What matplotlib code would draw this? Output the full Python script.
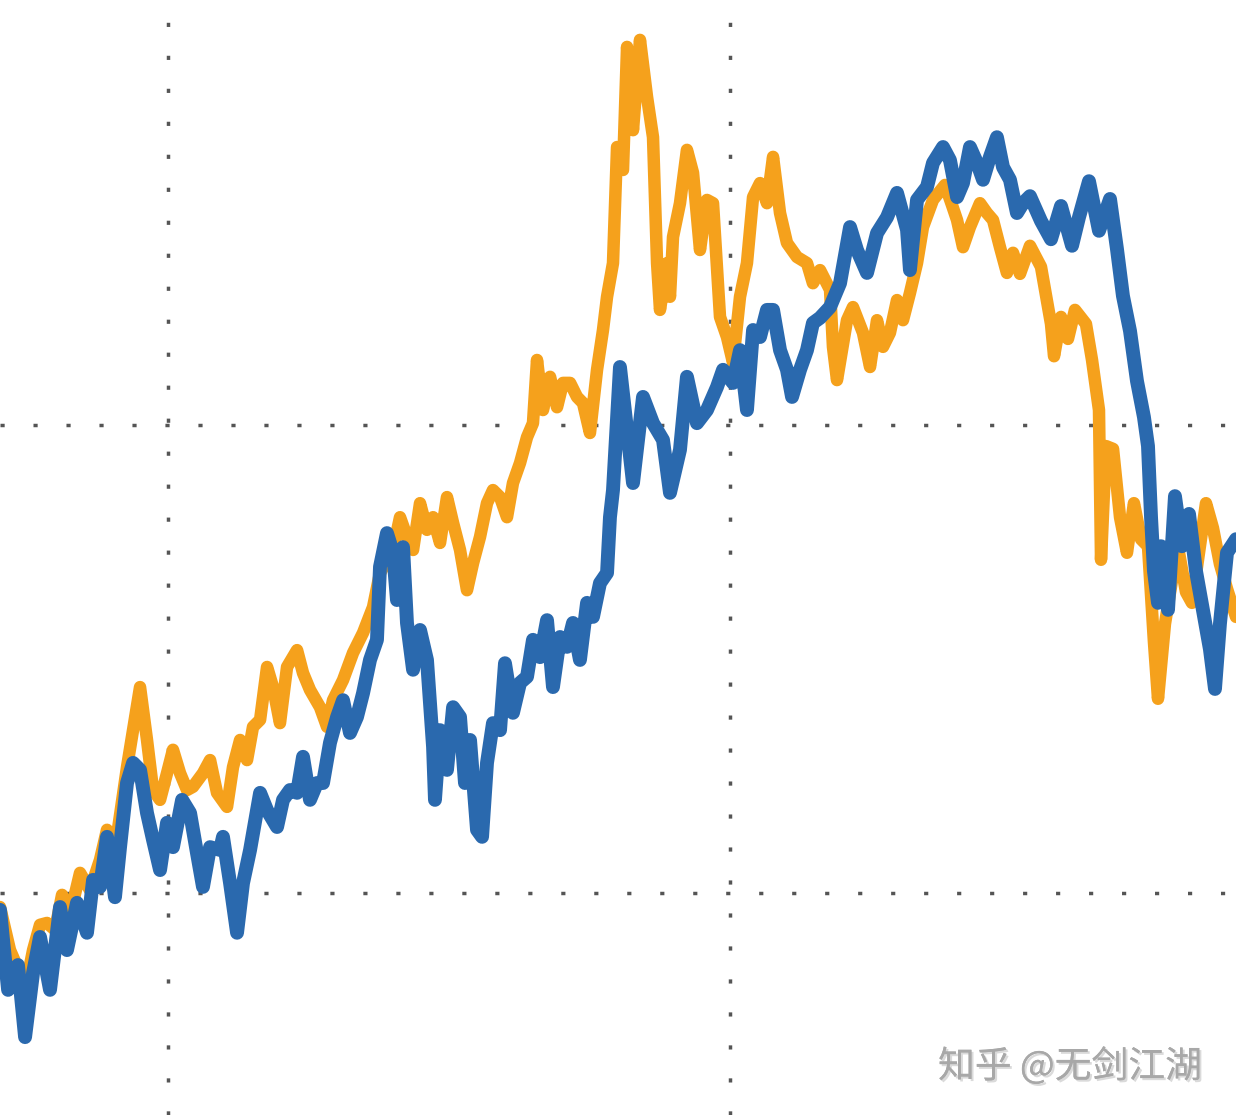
import matplotlib
matplotlib.use("Agg")
import matplotlib.pyplot as plt
import matplotlib.patheffects as pe

plt.rcParams['font.family'] = ['Noto Sans CJK SC', 'DejaVu Sans']

# ---- data (time in years, values as index levels) ----
blue_x = [
    2008.505, 2008.577, 2008.665, 2008.728, 2008.799, 2008.861, 2008.950, 2009.039, 2009.101, 2009.190,
    2009.279, 2009.333, 2009.395, 2009.457, 2009.528, 2009.573, 2009.635, 2009.689, 2009.751, 2009.813,
    2009.867, 2009.929, 2009.991, 2010.044, 2010.125, 2010.196, 2010.258, 2010.311, 2010.374, 2010.463,
    2010.489, 2010.552, 2010.614, 2010.667, 2010.730, 2010.819, 2010.881, 2010.970, 2011.023, 2011.085,
    2011.148, 2011.201, 2011.263, 2011.326, 2011.379, 2011.441, 2011.504, 2011.557, 2011.619, 2011.681,
    2011.735, 2011.797, 2011.859, 2011.886, 2011.948, 2012.002, 2012.037, 2012.091, 2012.126, 2012.180,
    2012.242, 2012.304, 2012.358, 2012.375, 2012.420, 2012.482, 2012.536, 2012.598, 2012.642, 2012.687,
    2012.749, 2012.794, 2012.838, 2012.891, 2012.954, 2012.998, 2013.069, 2013.132, 2013.194, 2013.247,
    2013.310, 2013.372, 2013.425, 2013.488, 2013.550, 2013.603, 2013.665, 2013.728, 2013.781, 2013.843,
    2013.906, 2013.932, 2013.959, 2014.021, 2014.084, 2014.137, 2014.226, 2014.315, 2014.404, 2014.466,
    2014.555, 2014.617, 2014.706, 2014.795, 2014.884, 2014.938, 2015.027, 2015.089, 2015.151, 2015.205,
    2015.267, 2015.329, 2015.383, 2015.445, 2015.507, 2015.552, 2015.623, 2015.685, 2015.738, 2015.801,
    2015.890, 2015.979, 2016.068, 2016.130, 2016.219, 2016.308, 2016.397, 2016.486, 2016.575, 2016.601,
    2016.664, 2016.753, 2016.806, 2016.895, 2016.957, 2017.020, 2017.073, 2017.135, 2017.198, 2017.251,
    2017.313, 2017.375, 2017.429, 2017.491, 2017.553, 2017.607, 2017.669, 2017.767, 2017.856, 2017.945,
    2018.043, 2018.105, 2018.194, 2018.283, 2018.381, 2018.443, 2018.496, 2018.559, 2018.621, 2018.683,
    2018.719, 2018.746, 2018.772, 2018.808, 2018.835, 2018.897, 2018.959, 2019.021, 2019.084, 2019.146,
    2019.208, 2019.270, 2019.315, 2019.359, 2019.422, 2019.502,
]
blue_y = [
    96.4, 79.3, 84.6, 69.2, 82.9, 90.6, 79.3, 97.0, 87.8, 97.9,
    91.5, 102.8, 101.3, 112.0, 99.1, 109.8, 123.5, 127.8, 126.3, 117.1,
    111.3, 104.9, 115.0, 109.8, 119.9, 117.1, 108.5, 101.3, 109.8, 109.2,
    112.0, 102.1, 91.5, 102.1, 109.2, 121.4, 117.7, 114.1, 119.9, 122.0,
    121.4, 129.1, 119.9, 123.5, 123.5, 132.1, 137.6, 141.2, 134.2, 137.6,
    142.7, 149.8, 154.1, 169.7, 176.9, 172.7, 162.6, 173.9, 157.7, 147.7,
    156.2, 149.8, 131.2, 119.9, 134.8, 126.3, 139.7, 137.6, 123.5, 132.7,
    113.5, 112.0, 127.8, 136.3, 134.8, 149.1, 138.5, 144.9, 146.2, 154.1,
    150.4, 158.3, 144.0, 154.7, 152.6, 157.7, 149.8, 162.0, 159.0, 166.2,
    168.4, 180.3, 186.1, 212.4, 198.9, 187.6, 206.0, 200.4, 196.8, 185.5,
    194.7, 210.3, 200.4, 203.2, 208.1, 211.8, 209.0, 216.0, 203.2, 220.3,
    218.8, 224.6, 224.6, 216.0, 211.8, 206.0, 211.8, 216.0, 221.8, 222.9,
    225.2, 230.3, 242.3, 237.4, 232.5, 241.0, 244.4, 249.6, 241.7, 233.1,
    248.1, 250.9, 256.0, 259.4, 256.6, 248.7, 251.7, 259.4, 256.0, 252.4,
    257.3, 261.5, 255.1, 252.4, 245.3, 247.4, 248.9, 243.6, 239.7, 246.8,
    238.3, 244.4, 252.1, 241.5, 248.3, 237.6, 227.6, 220.1, 209.4, 201.7,
    195.5, 180.3, 168.8, 162.0, 174.1, 160.5, 184.8, 174.1, 181.0, 168.8,
    160.5, 152.1, 143.6, 157.5, 172.7, 175.6,
]

orange_x = [
    2008.505, 2008.594, 2008.639, 2008.728, 2008.799, 2008.861, 2008.923, 2008.995, 2009.057, 2009.128,
    2009.217, 2009.306, 2009.395, 2009.457, 2009.528, 2009.635, 2009.689, 2009.751, 2009.813, 2009.867,
    2009.929, 2009.991, 2010.044, 2010.107, 2010.169, 2010.222, 2010.311, 2010.374, 2010.436, 2010.525,
    2010.578, 2010.641, 2010.703, 2010.756, 2010.819, 2010.881, 2010.934, 2010.996, 2011.059, 2011.148,
    2011.201, 2011.263, 2011.352, 2011.415, 2011.468, 2011.557, 2011.646, 2011.735, 2011.824, 2011.886,
    2012.002, 2012.064, 2012.126, 2012.180, 2012.242, 2012.304, 2012.358, 2012.420, 2012.482, 2012.536,
    2012.598, 2012.660, 2012.714, 2012.776, 2012.838, 2012.891, 2012.954, 2013.016, 2013.069, 2013.132,
    2013.194, 2013.247, 2013.283, 2013.336, 2013.399, 2013.461, 2013.514, 2013.577, 2013.639, 2013.692,
    2013.754, 2013.817, 2013.870, 2013.906, 2013.959, 2013.995, 2014.048, 2014.084, 2014.137, 2014.199,
    2014.262, 2014.315, 2014.351, 2014.377, 2014.440, 2014.466, 2014.493, 2014.555, 2014.617, 2014.671,
    2014.733, 2014.795, 2014.849, 2014.911, 2014.973, 2015.027, 2015.089, 2015.151, 2015.205, 2015.267,
    2015.329, 2015.383, 2015.445, 2015.507, 2015.596, 2015.685, 2015.738, 2015.801, 2015.890, 2015.916,
    2015.952, 2016.041, 2016.094, 2016.183, 2016.246, 2016.308, 2016.361, 2016.423, 2016.486, 2016.539,
    2016.601, 2016.664, 2016.717, 2016.806, 2016.913, 2016.975, 2017.020, 2017.073, 2017.135, 2017.224,
    2017.286, 2017.340, 2017.402, 2017.464, 2017.518, 2017.580, 2017.669, 2017.767, 2017.856, 2017.883,
    2017.945, 2018.007, 2018.069, 2018.167, 2018.221, 2018.283, 2018.301, 2018.345, 2018.408, 2018.470,
    2018.532, 2018.594, 2018.657, 2018.719, 2018.772, 2018.808, 2018.870, 2018.932, 2018.995, 2019.057,
    2019.110, 2019.173, 2019.235, 2019.297, 2019.359, 2019.422, 2019.502,
]
orange_y = [
    97.0, 87.8, 85.3, 79.3, 87.8, 93.2, 93.6, 92.1, 99.6, 95.3,
    104.3, 100.6, 107.1, 113.5, 109.2, 126.9, 134.8, 144.0, 132.7, 122.0,
    119.9, 125.6, 130.6, 125.6, 122.0, 122.7, 125.6, 128.4, 121.4, 118.4,
    126.9, 132.7, 128.4, 135.5, 137.0, 148.3, 144.0, 136.3, 148.3, 151.9,
    147.0, 143.4, 139.7, 135.5, 141.2, 145.5, 151.3, 155.6, 161.1, 168.4,
    173.3, 180.3, 176.1, 173.3, 183.3, 177.6, 180.3, 174.8, 184.6, 179.1,
    173.3, 164.7, 170.5, 176.1, 183.3, 186.1, 184.6, 180.3, 187.6, 191.9,
    197.4, 200.4, 213.9, 203.2, 210.3, 203.8, 209.0, 209.0, 206.0, 204.7,
    198.3, 211.8, 220.3, 227.4, 234.6, 259.4, 254.5, 280.8, 263.0, 282.3,
    270.1, 261.5, 234.6, 224.6, 234.6, 227.4, 240.2, 247.4, 258.8, 253.9,
    237.4, 248.1, 247.4, 223.1, 218.8, 213.3, 227.4, 234.6, 248.7, 251.7,
    247.4, 257.3, 245.3, 238.9, 235.9, 234.6, 230.3, 233.1, 228.9, 216.7,
    209.6, 222.4, 225.2, 219.7, 212.4, 222.4, 216.7, 219.7, 226.7, 222.4,
    228.2, 234.6, 242.3, 248.1, 251.3, 247.0, 243.8, 238.0, 242.3, 247.4,
    245.3, 243.8, 238.0, 232.5, 236.8, 232.3, 238.3, 233.8, 221.6, 214.7,
    223.1, 218.4, 224.6, 221.6, 213.9, 203.2, 171.2, 195.5, 194.9, 180.3,
    172.7, 183.3, 175.6, 174.1, 153.6, 141.5, 157.5, 166.7, 172.7, 164.3,
    162.0, 172.7, 183.3, 178.0, 170.3, 165.0, 159.0,
]

grid_x = [2010, 2015]
grid_y = [100, 200]
watermark = "知乎 @无剑江湖"

assert len(blue_x) == len(blue_y)
assert len(orange_x) == len(orange_y)

# ---- figure ----
fig = plt.figure(figsize=(12.36, 11.15), dpi=100)
ax = fig.add_axes([0, 0, 1, 1])
ax.set_xlim(2008.505, 2019.502)
ax.set_ylim(52.56, 290.82)
for s in ax.spines.values():
    s.set_visible(False)
ax.set_xticks([])
ax.set_yticks([])

grid_style = dict(color="#555555", linewidth=2.5, linestyle=(0, (1.2, 8.3)), zorder=1)
for gx in grid_x:
    ax.axvline(gx, **grid_style)
for gy in grid_y:
    ax.axhline(gy, **grid_style)

ax.plot(orange_x, orange_y, color="#F5A11C", linewidth=9.0, zorder=2,
        solid_joinstyle="round", solid_capstyle="round")
ax.plot(blue_x, blue_y, color="#2A69AE", linewidth=10.0, zorder=3,
        solid_joinstyle="round", solid_capstyle="round")

fig.text(938 / 1236, 1 - 1067 / 1115, watermark, fontsize=26.5, color="#a8a8a8",
         ha="left", va="center",
         path_effects=[pe.withSimplePatchShadow(offset=(1.5, -1.5), shadow_rgbFace="#d6d6d6", alpha=0.9),
                       pe.Normal()])

fig.savefig("out.png", dpi=100, facecolor="white")
